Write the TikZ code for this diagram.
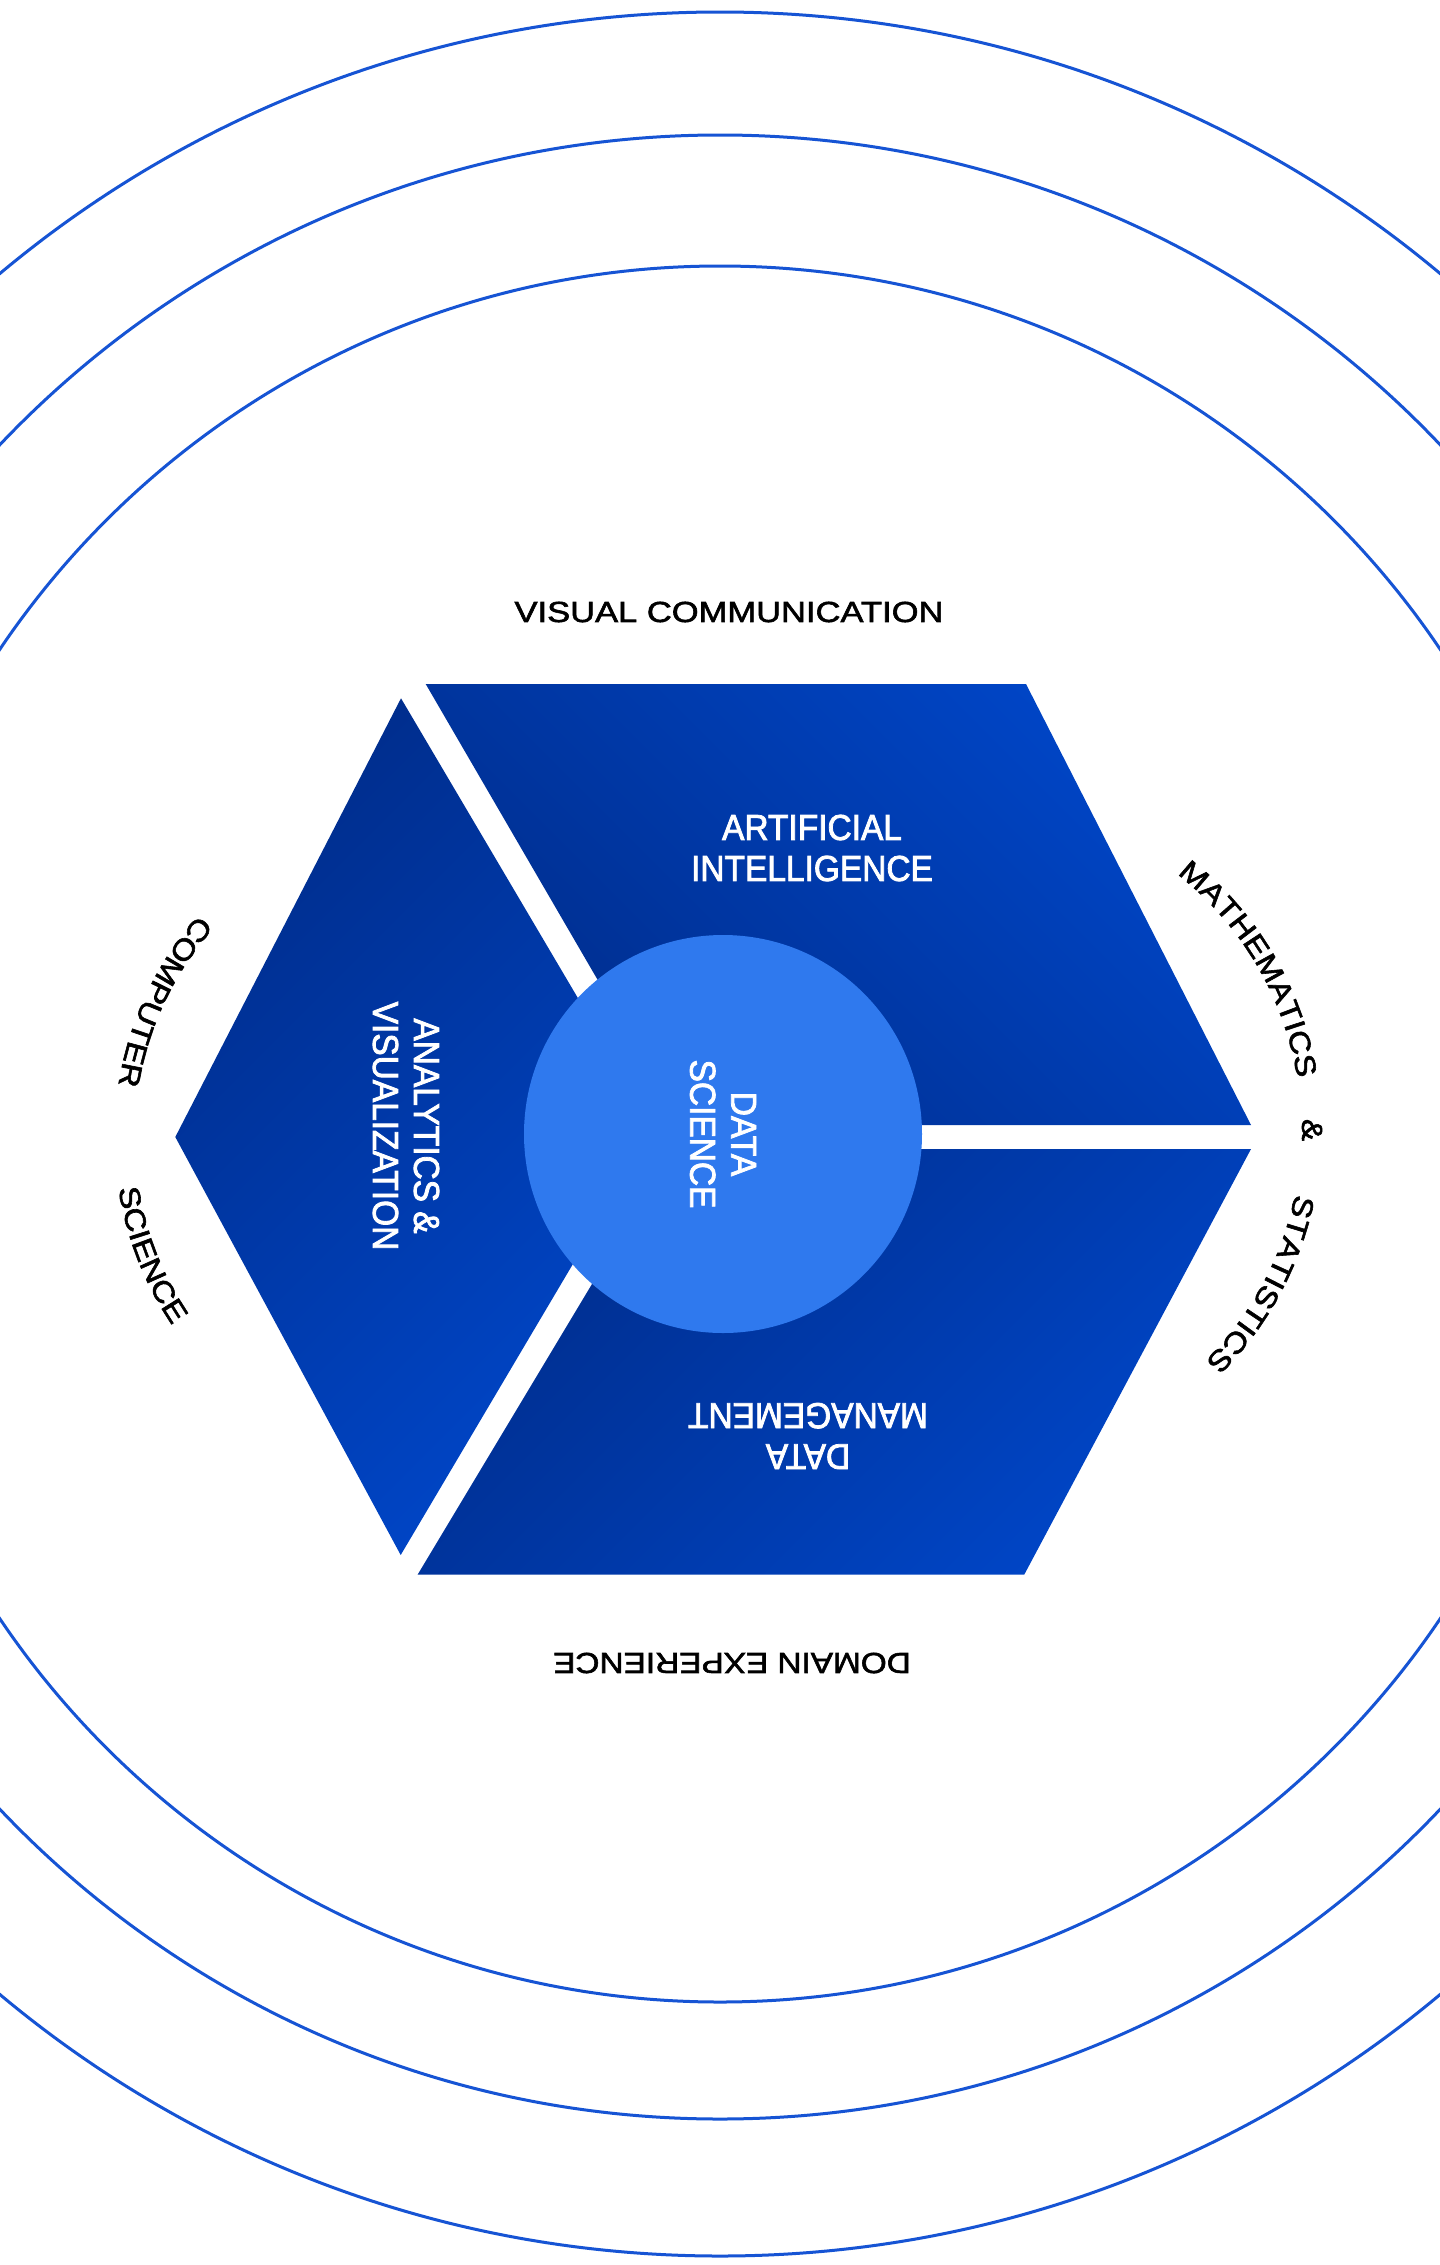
\documentclass[tikz,border=0pt]{standalone}
\usepackage{fontspec}
\setmainfont{Liberation Sans}
\newfontfamily\outerfnt[FakeStretch=1.15,FakeBold=2]{Liberation Sans}
\newfontfamily\innerfnt[FakeStretch=0.93,FakeBold=2.2]{Liberation Sans}
\usetikzlibrary{decorations.text}
\definecolor{ringblue}{RGB}{22,84,212}
\definecolor{hexdark}{RGB}{0,45,140}
\definecolor{hexlight}{RGB}{0,70,200}
\definecolor{coreblue}{RGB}{47,121,238}
\newcommand\outerstyle{\outerfnt\fontsize{29}{34}\selectfont}
\newcommand\innerstyle{\innerfnt\fontsize{36}{41}\selectfont}
\begin{document}
\begin{tikzpicture}[x=1pt,y=1pt,
  ring/.style={draw=ringblue, line width=3pt},
  outerlabel/.style={font=\outerstyle, text=black, inner sep=0pt},
  innerlabel/.style={font=\innerstyle, text=white, align=center, inner sep=0pt},
  piecedown/.style={top color=hexdark, bottom color=hexlight, shading angle=45},
  pieceup/.style={bottom color=hexdark, top color=hexlight, shading angle=-45},
  arctext/.style={decorate, decoration={text along path, text align=center, text={|\outerstyle|#1}}}
]
\useasboundingbox (0,0) rectangle (1440,-2265);
\fill[white] (0,0) rectangle (1440,-2265);
\begin{scope}
\clip (0,0) rectangle (1440,-2265);
\coordinate (rc) at (720,-1134);
\coordinate (rcm) at (720,-1127);
\draw[ring] (rc) circle[radius=1122];
\draw[ring] (rcm) circle[radius=992];
\draw[ring] (rc) circle[radius=868];
\end{scope}

% hexagon pieces
\shade[pieceup] (425.7,-684) -- (1026,-684) -- (1251,-1125) -- (682,-1125) -- cycle;
\shade[piecedown] (401,-698.3) -- (175.3,-1137) -- (400.7,-1555) -- (654,-1127) -- cycle;
\shade[piecedown] (417.7,-1574.5) -- (1024.3,-1574.5) -- (1251,-1149) -- (673,-1149) -- cycle;

% core
\node[circle, fill=coreblue, minimum size=398pt, inner sep=0pt] (core) at (723,-1134) {};

% inner labels
\node[innerlabel] (ai) at (812,-848) {ARTIFICIAL\\INTELLIGENCE};
\node[innerlabel, rotate=-90] (ds) at (core.center) {DATA\\SCIENCE};
\node[innerlabel, rotate=-90] (av) at (406,-1126) {ANALYTICS \&\\VISUALIZATION};
\node[innerlabel, rotate=180] (dm) at (808,-1436) {DATA\\MANAGEMENT};

% outer labels
\node[outerlabel] (vc) at (729,-612) {\scalebox{1.035}[1]{VISUAL COMMUNICATION}};
\node[outerlabel, rotate=180] (de) at (732,-1663) {DOMAIN EXPERIENCE};

\coordinate (rightc) at (976,-1130);
\coordinate (leftc) at (450,-1137);
\path[arctext=MATHEMATICS] (rightc) ++(60.5:325.5) arc[start angle=60.5, end angle=0.5, radius=325.5];
\path[arctext=STATISTICS] (rightc) ++(1.7:325.5) arc[start angle=1.7, end angle=-58.3, radius=325.5];
\node[outerlabel, rotate=-90] (amp) at (1312,-1130) {\&};
\path[arctext=COMPUTER] (leftc) ++(124.8:335.5) arc[start angle=124.8, end angle=184.8, radius=335.5];
\path[arctext=SCIENCE] (leftc) ++(171.5:335.5) arc[start angle=171.5, end angle=231.5, radius=335.5];
\end{tikzpicture}
\end{document}
